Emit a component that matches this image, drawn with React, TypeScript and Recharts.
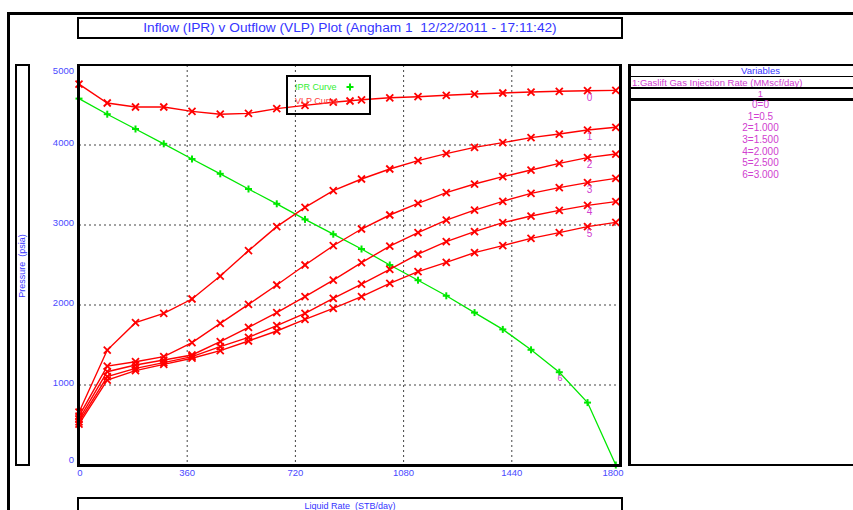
import React from "react";
import {
    LineChart,
    Line,
    XAxis,
    YAxis,
    CartesianGrid,
    Legend,
    LabelList,
    ReferenceDot,
} from "recharts";

// Liquid rate points (STB/day) shared by every curve
const RATES = [0, 94, 188, 282, 376, 470, 564, 658, 752, 846, 940, 1034, 1128, 1222, 1316, 1410, 1504, 1598, 1692, 1786];

// Inflow (IPR) pressures, psia
const IPR = [4580, 4385, 4200, 4015, 3825, 3640, 3450, 3265, 3070, 2885, 2700, 2500, 2310, 2115, 1905, 1695, 1440, 1160, 780, 0];

// Outflow (VLP) pressures, psia, one per gaslift rate
const VLP0 = [4760, 4525, 4475, 4475, 4420, 4385, 4395, 4455, 4495, 4535, 4565, 4590, 4604, 4621, 4637, 4650, 4662, 4671, 4679, 4683];
const VLP1 = [660, 1437, 1779, 1896, 2075, 2362, 2679, 2979, 3221, 3430, 3575, 3700, 3804, 3892, 3971, 4029, 4092, 4137, 4187, 4221];
const VLP2 = [610, 1237, 1291, 1354, 1529, 1771, 2008, 2250, 2500, 2741, 2950, 3125, 3271, 3404, 3512, 3604, 3687, 3771, 3842, 3887];
const VLP3 = [570, 1166, 1250, 1312, 1375, 1541, 1721, 1904, 2104, 2312, 2529, 2737, 2904, 3062, 3187, 3296, 3396, 3467, 3529, 3583];
const VLP4 = [540, 1104, 1208, 1279, 1354, 1480, 1596, 1742, 1896, 2083, 2262, 2446, 2637, 2792, 2917, 3029, 3112, 3183, 3246, 3292];
const VLP5 = [510, 1062, 1179, 1258, 1335, 1430, 1550, 1675, 1821, 1958, 2104, 2271, 2417, 2533, 2654, 2742, 2833, 2904, 2979, 3033];

const VLP_SERIES = [VLP0, VLP1, VLP2, VLP3, VLP4, VLP5];

const X_TICKS = [0, 360, 720, 1080, 1440, 1800];
const Y_TICKS = [0, 1000, 2000, 3000, 4000, 5000];

const VARIABLES = ["0=0", "1=0.5", "2=1.000", "3=1.500", "4=2.000", "5=2.500", "6=3.000"];

const BLUE = "#3535ff";
const TICK_BLUE = "#4a4aff";
const MAGENTA = "#d040d0";
const RED = "#ff0000";
const GREEN = "#00e800";
const FONT = "'Liberation Sans', Arial, sans-serif";

const chartData = RATES.map((rate, i) => {
    const row: any = { rate, ipr: IPR[i] };
    VLP_SERIES.forEach((s, n) => { row[`vlp${n}`] = s[i]; });
    return row;
});

const crossDot = (props: any) => {
    const { cx, cy, index } = props;
    if (cx == null || cy == null) return <g key={`c-${index}`} />;
    const s = 3.5;
    return (
        <g key={`c-${index}`}>
            <line x1={cx - s} y1={cy - s} x2={cx + s} y2={cy + s} stroke={RED} strokeWidth={1.8} />
            <line x1={cx - s} y1={cy + s} x2={cx + s} y2={cy - s} stroke={RED} strokeWidth={1.8} />
        </g>
    );
};

const plusDot = (props: any) => {
    const { cx, cy, index } = props;
    if (cx == null || cy == null) return <g key={`p-${index}`} />;
    const s = 3.5;
    return (
        <g key={`p-${index}`}>
            <line x1={cx - s} y1={cy} x2={cx + s} y2={cy} stroke={GREEN} strokeWidth={2} />
            <line x1={cx} y1={cy - s} x2={cx} y2={cy + s} stroke={GREEN} strokeWidth={2} />
        </g>
    );
};

// curve number written just under its second-to-last point
const curveLabel = (n: number) => (props: any) => {
    const { x, y, index } = props;
    if (index !== RATES.length - 2) return null;
    return (
        <text x={x + 2} y={y + 10} fill={MAGENTA} fontSize={10} fontFamily={FONT} textAnchor="middle">
            {n}
        </text>
    );
};

const YTick = (props: any) => {
    const { x, y, payload } = props;
    let dy = -2;
    if (payload.value === 5000) dy = 6;
    if (payload.value === 0) dy = -5;
    return (
        <text x={x + 3} y={y + dy} dy="0.35em" textAnchor="end" fill={TICK_BLUE} fontSize={9.5} fontFamily={FONT}>
            {payload.value}
        </text>
    );
};

const XTick = (props: any) => {
    const { x, payload } = props;
    let dx = 0;
    if (payload.value === 0) dx = 1;
    if (payload.value === 1800) dx = -7;
    return (
        <text x={x + dx} y={473} dy="0.35em" textAnchor="middle" fill={TICK_BLUE} fontSize={9.5} fontFamily={FONT}>
            {payload.value}
        </text>
    );
};

const LegendBox = () => (
    <div style={{ width: 85, height: 40, border: "2px solid #000", boxSizing: "border-box", position: "relative", fontFamily: FONT, fontSize: 9 }}>
        <div style={{ position: "absolute", left: 7, top: 5, color: "#33ee33" }}>IPR Curve</div>
        <div style={{ position: "absolute", left: 7, top: 19, color: "#ff4040" }}>VLP Curve</div>
        <svg width={85} height={40} style={{ position: "absolute", left: -2, top: -2 }}>
            {plusDot({ cx: 64, cy: 12, index: 0 })}
            {crossDot({ cx: 64, cy: 26, index: 1 })}
        </svg>
    </div>
);

const box = (left: number, top: number, width: number, height: number, extra: any = {}) => ({
    position: "absolute" as const,
    left, top, width, height,
    boxSizing: "border-box" as const,
    ...extra,
});

// one line of text centred on a given y
const panelText = (top: number, color: string, extra: any = {}) => ({
    position: "absolute" as const,
    left: 0, right: 0, top: top - 6, height: 12, lineHeight: "12px",
    color, textAlign: "center" as const, whiteSpace: "nowrap" as const,
    ...extra,
});

export default function App() {
    return (
        <div style={{ position: "absolute", left: 0, top: 0, width: 853, height: 510, background: "#fff", overflow: "hidden", fontFamily: FONT }}>
            {/* outer window frame */}
            <div style={box(7, 12, 846, 3, { background: "#000" })} />
            <div style={box(7, 12, 3, 498, { background: "#000" })} />

            {/* title */}
            <div style={box(77, 17, 546, 22, { border: "2px solid #000", color: BLUE, fontSize: 13.7, textAlign: "center", lineHeight: "18px", whiteSpace: "nowrap" })}>
                Inflow (IPR) v Outflow (VLP) Plot (Angham 1&nbsp;&nbsp;12/22/2011 - 17:11:42)
            </div>

            {/* y axis title */}
            <div style={box(15, 64, 15, 402, { border: "2px solid #000" })}>
                <div style={{ position: "absolute", left: 5, top: 200, transform: "translate(-50%, -50%) rotate(-90deg)", whiteSpace: "pre", color: BLUE, fontSize: 9 }}>
                    {"Pressure  (psia)"}
                </div>
            </div>

            {/* x axis title */}
            <div style={box(77, 497, 546, 20, { border: "2px solid #000", color: BLUE, fontSize: 9, textAlign: "center", lineHeight: "14px", whiteSpace: "pre" })}>
                {"Liquid Rate  (STB/day)"}
            </div>

            {/* variables panel */}
            <div style={box(628, 64, 262, 402, { borderLeft: "3px solid #000", borderTop: "2px solid #000", borderBottom: "2px solid #000", fontSize: 9.5 })}>
                <div style={panelText(4.7, BLUE)}>Variables</div>
                <div style={box(0, 9.5, 262, 1, { background: "#000" })} />
                <div style={panelText(16.7, MAGENTA, { textAlign: "left", paddingLeft: 1 })}>1:Gaslift Gas Injection Rate (MMscf/day)</div>
                <div style={box(0, 20.5, 262, 2, { background: "#000" })} />
                <div style={panelText(28.3, MAGENTA)}>1</div>
                <div style={box(0, 32, 262, 3, { background: "#000" })} />
                {VARIABLES.map((v, i) => (
                    <div key={v} style={panelText(39 + i * 11.67, MAGENTA, { fontSize: 10 })}>{v}</div>
                ))}
            </div>

            <div style={{ position: "absolute", left: 0, top: 0 }}>
                <LineChart width={853} height={510} data={chartData} margin={{ top: 65, right: 233, bottom: 25, left: 49 }}>
                    <CartesianGrid stroke="#444" strokeDasharray="2 3" vertical horizontal />
                    <XAxis dataKey="rate" type="number" domain={[0, 1800]} ticks={X_TICKS} height={20}
                        axisLine={false} tickLine={false} tick={<XTick />} interval={0} />
                    <YAxis type="number" domain={[0, 5000]} ticks={Y_TICKS} width={30}
                        axisLine={false} tickLine={false} tick={<YTick />} interval={0} />
                    <Legend layout="horizontal" verticalAlign="middle" align="center"
                        wrapperStyle={{ left: 286, top: 75, width: 85, height: 40 }}
                        content={<LegendBox />} />
                    <Line dataKey="ipr" stroke={GREEN} strokeWidth={1.3} dot={plusDot} activeDot={false} isAnimationActive={false} />
                    {VLP_SERIES.map((_, n) => (
                        <Line key={n} dataKey={`vlp${n}`} stroke={RED} strokeWidth={1.4} dot={crossDot} activeDot={false} isAnimationActive={false}>
                            <LabelList dataKey={`vlp${n}`} content={curveLabel(n)} />
                        </Line>
                    ))}
                    <ReferenceDot x={1600} y={1090} r={0} isFront
                        label={{ value: "6", fill: MAGENTA, fontSize: 9, fontFamily: FONT, position: "center" }} />
                </LineChart>
            </div>

            {/* plot frame */}
            <div style={box(77, 64, 545, 403, { borderTop: "2px solid #000", borderLeft: "3px solid #000", borderRight: "3px solid #000", borderBottom: "3px solid #000", pointerEvents: "none" })} />
        </div>
    );
}
